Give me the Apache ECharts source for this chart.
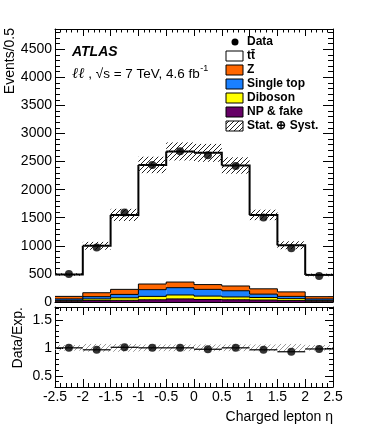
<!DOCTYPE html>
<html>
<head>
<meta charset="utf-8">
<script src="https://cdn.jsdelivr.net/npm/echarts@6/dist/echarts.min.js"></script>
<style>
html, body { margin: 0; background: #fff; }
#chart { width: 390px; height: 440px; }
</style>
</head>
<body>
<div id="chart"></div>
<script>
// bins of charged lepton eta
const binEdges = [-2.5, -2, -1.5, -1, -0.5, 0, 0.5, 1, 1.5, 2, 2.5];
// stacked expectation, bottom to top
const npFake = [15, 25, 30, 40, 55, 45, 40, 35, 25, 15];
const diboson = [15, 30, 45, 60, 70, 60, 50, 45, 35, 15];
const singleTop = [25, 40, 60, 120, 130, 120, 110, 60, 40, 25];
const zjets = [45, 70, 90, 100, 100, 85, 85, 95, 80, 40];
const ttbar = [390, 835, 1325, 2120, 2325, 2345, 2145, 1315, 830, 387];
// observed
const dataCounts = [500, 970, 1595, 2441, 2684, 2613, 2423, 1505, 959, 462];
const ratio = [1.0, 0.965, 1.01, 1.0, 1.0, 0.975, 1.0, 0.965, 0.93, 0.98];
// relative stat+syst uncertainty
const relErr = [0.05, 0.07, 0.07, 0.06, 0.06, 0.06, 0.06, 0.06, 0.07, 0.05];
// ticks
const yTicks = [0, 500, 1000, 1500, 2000, 2500, 3000, 3500, 4000, 4500];
const ratioTicks = [0.5, 1, 1.5];

const FONT = '"Liberation Sans", Arial, Helvetica, sans-serif';
const layers = [npFake, diboson, singleTop, zjets, ttbar];
const layerColors = ['#660066', '#ffff00', '#1a80ff', '#ff6600', '#ffffff'];
const total = ttbar.map((_, i) => layers.reduce((s, l) => s + l[i], 0));

function cum(i, k) {
    let s = 0;
    for (let j = 0; j <= k; j++) s += layers[j][i];
    return s;
}

function hatch(color, size) {
    const c = document.createElement('canvas');
    c.width = size; c.height = size;
    const g = c.getContext('2d');
    g.strokeStyle = color;
    g.lineWidth = 1;
    g.beginPath();
    g.moveTo(0, size); g.lineTo(size, 0);
    g.moveTo(-1, 1); g.lineTo(1, -1);
    g.moveTo(size - 1, size + 1); g.lineTo(size + 1, size - 1);
    g.stroke();
    return c;
}
const hatchDark = { image: hatch('#222', 5), repeat: 'repeat' };
const hatchGrey = { image: hatch('#9a9a9a', 5), repeat: 'repeat' };

// text width helper for the label line
const measureCtx = document.createElement('canvas').getContext('2d');
function textWidth(str, font) {
    measureCtx.font = font;
    return measureCtx.measureText(str).width;
}

const minorUpper = [];
for (let v = 0; v <= 4800; v += 100) minorUpper.push(v);
const minorRatio = [];
for (let k = 3; k <= 17; k++) minorRatio.push(k / 10);

function yAxisPair(grid, pos, min, max, majors, minors, majLen, minLen, labels) {
    const line = { show: true, onZero: false, lineStyle: { color: '#000', width: 1 } };
    return [
        {
            type: 'value', gridIndex: grid, position: pos, min, max,
            splitLine: { show: false }, axisLine: line,
            axisTick: { inside: true, length: majLen, customValues: majors, lineStyle: { color: '#000' } },
            axisLabel: labels ? {
                show: true, customValues: majors, margin: 3, color: '#000',
                fontSize: 14, fontFamily: FONT, formatter: (v) => String(v)
            } : { show: false }
        },
        {
            type: 'value', gridIndex: grid, position: pos, min, max,
            splitLine: { show: false }, axisLine: { show: false, onZero: false },
            axisTick: { inside: true, length: minLen, customValues: minors, lineStyle: { color: '#000' } },
            axisLabel: { show: false }
        }
    ];
}

function xAxisOf(grid, pos, majLen, labels) {
    return {
        type: 'value', gridIndex: grid, position: pos, min: -2.5, max: 2.5, interval: 0.5,
        splitLine: { show: false },
        axisLine: { show: true, onZero: false, lineStyle: { color: '#000', width: 1 } },
        axisTick: { inside: true, length: majLen, lineStyle: { color: '#000' } },
        minorTick: { show: true, splitNumber: 5, length: majLen / 2, lineStyle: { color: '#000' } },
        axisLabel: labels ? {
            show: true, margin: 3, color: '#000', fontSize: 14, fontFamily: FONT
        } : { show: false }
    };
}

function rectOf(api, lo, hi, y0, y1) {
    const a = api.coord([lo, y0]);
    const b = api.coord([hi, y1]);
    return { x: a[0], y: b[1], width: b[0] - a[0], height: a[1] - b[1] };
}

const binData = total.map((t, i) => [binEdges[i], binEdges[i + 1], t]);

function renderFill(params, api) {
    const i = params.dataIndex;
    const children = [];
    let base = 0;
    layers.forEach((layer, k) => {
        const top = base + layer[i];
        children.push({
            type: 'rect', shape: rectOf(api, binEdges[i], binEdges[i + 1], base, top),
            style: { fill: layerColors[k] }
        });
        base = top;
    });
    return { type: 'group', children };
}

function renderOutline(params, api) {
    const i = params.dataIndex;
    const children = [];
    layers.forEach((layer, k) => {
        const top = cum(i, k);
        const pts = [api.coord([binEdges[i], top]), api.coord([binEdges[i + 1], top])];
        if (i < total.length - 1) pts.push(api.coord([binEdges[i + 1], cum(i + 1, k)]));
        children.push({
            type: 'polyline', shape: { points: pts },
            style: { stroke: '#000', lineWidth: k === 4 ? 2 : 1, fill: null }
        });
    });
    return { type: 'group', children };
}

function renderBand(params, api) {
    const i = params.dataIndex;
    const t = total[i];
    return {
        type: 'rect',
        shape: rectOf(api, binEdges[i], binEdges[i + 1], t * (1 - relErr[i]), t * (1 + relErr[i])),
        style: { fill: hatchDark }
    };
}

function renderRatioBand(params, api) {
    const i = params.dataIndex;
    return {
        type: 'rect',
        shape: rectOf(api, binEdges[i], binEdges[i + 1], 1 - relErr[i], 1 + relErr[i]),
        style: { fill: hatchGrey }
    };
}

function renderRatioBar(params, api) {
    const i = params.dataIndex;
    const a = api.coord([binEdges[i], ratio[i]]);
    const b = api.coord([binEdges[i + 1], ratio[i]]);
    return {
        type: 'line', shape: { x1: a[0], y1: a[1], x2: b[0], y2: b[1] },
        style: { stroke: '#000', lineWidth: 1.2 }
    };
}

const centers = binEdges.slice(0, -1).map((e, i) => (e + binEdges[i + 1]) / 2);

const legendRows = [
    { name: 'Data', kind: 'dot' },
    { name: 't\u0074\u0304', kind: 'box', color: '#ffffff' },
    { name: 'Z', kind: 'box', color: '#ff6600' },
    { name: 'Single top', kind: 'box', color: '#1a80ff' },
    { name: 'Diboson', kind: 'box', color: '#ffff00' },
    { name: 'NP & fake', kind: 'box', color: '#660066' },
    { name: 'Stat. \u2295 Syst.', kind: 'box', color: hatchDark }
];
const legendGraphics = [];
legendRows.forEach((row, r) => {
    const y = 42 + r * 14;
    if (row.kind === 'dot') {
        legendGraphics.push({ type: 'circle', shape: { cx: 235, cy: y, r: 3.5 }, style: { fill: '#000' } });
    } else {
        legendGraphics.push({
            type: 'rect', shape: { x: 226, y: y - 5, width: 17, height: 10 },
            style: { fill: row.color, stroke: '#000', lineWidth: 1 }
        });
    }
    legendGraphics.push({
        type: 'text', x: 247, y: y,
        style: { text: row.name, font: 'bold 12px ' + FONT, fill: '#000', textAlign: 'left', textVerticalAlign: 'middle' }
    });
});

// label line: italic ll, energy and luminosity, superscript -1
const llFont = 'italic 15px "DejaVu Serif", serif';
const mainFont = '13.5px ' + FONT;
const llText = '\u2113\u2113';
const restText = ' , \u221As = 7 TeV, 4.6 fb';
const xRest = 72 + textWidth(llText, llFont);
const xSup = xRest + textWidth(restText, mainFont) + 0.5;

const chart = echarts.init(document.getElementById('chart'), null, { renderer: 'canvas' });
chart.setOption({
    animation: false,
    backgroundColor: '#fff',
    grid: [
        { left: 55, right: 57, top: 29, height: 273 },
        { left: 55, right: 57, top: 307, height: 80 }
    ],
    xAxis: [
        xAxisOf(0, 'bottom', 7, false),
        xAxisOf(0, 'top', 7, false),
        xAxisOf(1, 'bottom', 8, true),
        xAxisOf(1, 'top', 8, false)
    ],
    yAxis: [
        ...yAxisPair(0, 'left', 0, 4860, yTicks, minorUpper, 10, 5, true),
        ...yAxisPair(0, 'right', 0, 4860, yTicks, minorUpper, 10, 5, false),
        ...yAxisPair(1, 'left', 0.3, 1.73, ratioTicks, minorRatio, 8, 4, true),
        ...yAxisPair(1, 'right', 0.3, 1.73, ratioTicks, minorRatio, 8, 4, false)
    ],
    series: [
        { type: 'custom', xAxisIndex: 0, yAxisIndex: 0, data: binData, encode: { x: [0, 1], y: 2 }, renderItem: renderFill, clip: true, z: 1 },
        { type: 'custom', xAxisIndex: 0, yAxisIndex: 0, data: binData, encode: { x: [0, 1], y: 2 }, renderItem: renderOutline, clip: true, z: 2 },
        { type: 'custom', xAxisIndex: 0, yAxisIndex: 0, data: binData, encode: { x: [0, 1], y: 2 }, renderItem: renderBand, clip: true, z: 3 },
        {
            type: 'scatter', xAxisIndex: 0, yAxisIndex: 0, z: 4,
            data: centers.map((c, i) => [c, dataCounts[i]]),
            symbol: 'circle', symbolSize: 8, itemStyle: { color: '#000' }
        },
        { type: 'custom', xAxisIndex: 2, yAxisIndex: 4, data: binData, encode: { x: [0, 1] }, renderItem: renderRatioBand, clip: true, z: 1 },
        { type: 'custom', xAxisIndex: 2, yAxisIndex: 4, data: binData, encode: { x: [0, 1] }, renderItem: renderRatioBar, clip: true, z: 2 },
        {
            type: 'scatter', xAxisIndex: 2, yAxisIndex: 4, z: 4,
            data: centers.map((c, i) => [c, ratio[i]]),
            symbol: 'circle', symbolSize: 8, itemStyle: { color: '#000' }
        }
    ],
    graphic: [
        {
            type: 'text', x: 72, y: 52,
            style: { text: 'ATLAS', font: 'italic bold 14px ' + FONT, fill: '#000', textVerticalAlign: 'middle' }
        },
        {
            type: 'text', x: 72, y: 74,
            style: { text: llText, font: llFont, fill: '#000', textVerticalAlign: 'middle' }
        },
        {
            type: 'text', x: xRest, y: 74,
            style: { text: restText, font: mainFont, fill: '#000', textVerticalAlign: 'middle' }
        },
        {
            type: 'text', x: xSup, y: 69,
            style: { text: '-1', font: '9px ' + FONT, fill: '#000', textVerticalAlign: 'middle' }
        },
        {
            type: 'text', x: 10, y: 28, rotation: Math.PI / 2,
            style: { text: 'Events/0.5', font: '14px ' + FONT, fill: '#000', textAlign: 'right', textVerticalAlign: 'middle' }
        },
        {
            type: 'text', x: 18, y: 307, rotation: Math.PI / 2,
            style: { text: 'Data/Exp.', font: '14px ' + FONT, fill: '#000', textAlign: 'right', textVerticalAlign: 'middle' }
        },
        {
            type: 'text', x: 333, y: 417,
            style: { text: 'Charged lepton \u03B7', font: '14px ' + FONT, fill: '#000', textAlign: 'right', textVerticalAlign: 'middle' }
        },
        ...legendGraphics
    ]
});
</script>
</body>
</html>
